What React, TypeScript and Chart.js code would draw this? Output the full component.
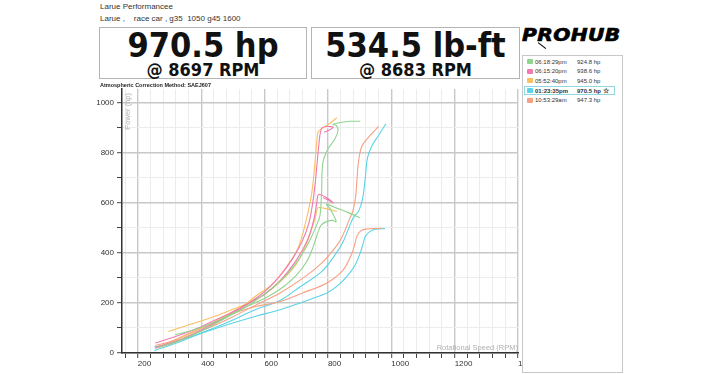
import React, { useEffect, useRef } from 'react';
import { Chart, registerables } from 'chart.js';
Chart.register(...registerables);

const runTimes = ['06:18:29pm', '06:15:20pm', '05:52:40pm', '01:23:35pm', '10:53:29am'];
const runPeaks = ['924.8 hp', '938.6 hp', '945.0 hp', '970.5 hp', '947.3 hp'];
const runColors = ['#8fd48f', '#f07aae', '#f9c060', '#5ad3e6', '#f7a083'];
const selectedRun = 3;

const xMajorTicks = [200, 400, 600, 800, 1000, 1200, 1400];
const yMajorTicks = [0, 200, 400, 600, 800, 1000];

const power1 = [[265,22],[320,45],[370,70],[420,100],[470,135],[520,170],[560,200],[610,245],[660,300],[700,360],[730,420],[752,475],[765,513],[775,550],[780,640],[784,760],[800,815],[822,855],[832,890],[826,910],[816,913],[840,921],[870,926],[902,926]];
const torque1 = [[318,73],[370,90],[420,112],[470,140],[520,170],[560,195],[610,225],[660,265],[700,310],[735,370],[755,430],[768,480],[778,510],[795,525],[815,530],[826,524],[820,545],[805,580],[795,595],[830,578],[870,558],[902,540]];
const power2 = [[255,22],[300,40],[350,62],[400,92],[450,125],[500,160],[545,195],[600,245],[650,310],[690,380],[720,450],[740,520],[752,600],[760,680],[766,760],[772,840],[776,880],[782,900],[800,905],[817,902],[800,888],[788,882]];
const torque2 = [[255,40],[300,58],[350,80],[400,105],[450,135],[500,165],[545,195],[600,235],[650,290],[700,370],[735,450],[755,530],[765,600],[770,633],[790,625],[817,600],[800,612],[785,620]];
const power3 = [[262,25],[300,42],[350,68],[400,98],[450,130],[500,165],[545,200],[570,226],[623,273],[674,353],[706,421],[728,513],[749,640],[760,773],[766,860],[770,886],[800,912],[828,940]];
const torque3 = [[296,86],[350,108],[400,128],[450,150],[500,175],[545,198],[600,235],[650,285],[700,355],[730,430],[750,500],[762,550],[768,580],[790,578],[828,566]];
const power4 = [[252,10],[300,30],[343,50],[400,80],[450,105],[500,132],[570,173],[649,210],[707,260],[781,326],[823,393],[848,445],[866,500],[880,540],[898,570],[910,620],[918,700],[925,780],[940,830],[960,870],[983,916]];
const torque4 = [[252,24],[300,36],[343,55],[400,78],[450,100],[500,120],[570,146],[649,173],[712,200],[760,222],[797,240],[830,268],[860,306],[885,350],[902,400],[912,440],[918,466],[933,486],[950,495],[980,497]];
const power5 = [[255,18],[300,35],[350,60],[400,88],[450,115],[500,145],[570,190],[649,240],[728,305],[781,360],[823,421],[845,465],[870,541],[880,573],[888,630],[892,700],[896,760],[907,826],[930,865],[960,906]];
const torque5 = [[255,30],[300,45],[350,72],[400,100],[450,125],[500,158],[570,185],[649,206],[720,240],[797,280],[849,333],[876,400],[886,440],[891,466],[902,486],[920,495],[970,498]];

const curves = [
  { run: 0, pts: power1 }, { run: 0, pts: torque1 },
  { run: 1, pts: power2 }, { run: 1, pts: torque2 },
  { run: 2, pts: power3 }, { run: 2, pts: torque3 },
  { run: 4, pts: power5 }, { run: 4, pts: torque5 },
  { run: 3, pts: power4 }, { run: 3, pts: torque4 },
];

const SANS = "'Liberation Sans', Arial, sans-serif";
const COND = "'DejaVu Sans Condensed', 'DejaVu Sans', sans-serif";

export default function App() {
  const ref = useRef<HTMLCanvasElement>(null);
  useEffect(() => {
    document.body.style.margin = '0';
    const datasets = curves.map((c) => ({
      data: c.pts.map(([x, y]) => ({ x, y })),
      borderColor: runColors[c.run],
      borderWidth: 1.1,
      pointRadius: 0,
      tension: 0.35,
      fill: false,
    }));
    const chart = new Chart(ref.current!, {
      type: 'line',
      data: { datasets },
      options: {
        animation: false,
        responsive: false,
        layout: { padding: { top: 4, right: 22, left: 0, bottom: 0 } },
        plugins: { legend: { display: false }, tooltip: { enabled: false } },
        scales: {
          x: {
            type: 'linear',
            min: 150,
            max: 1400,
            afterBuildTicks: (s: any) => {
              const t = [];
              for (let v = 160; v <= 1400; v += 40) t.push({ value: v });
              s.ticks = t;
            },
            afterFit: (s: any) => { s.height = 22; s.paddingLeft = 0; s.paddingRight = 0; },
            ticks: {
              autoSkip: false, maxRotation: 0, minRotation: 0, align: 'start', padding: 1,
              color: '#333', font: { size: 8, family: SANS },
              callback: (v: any) => (xMajorTicks.includes(v) ? String(v) : ''),
            },
            grid: {
              color: (ctx: any) => (ctx.tick && xMajorTicks.includes(ctx.tick.value) ? '#c8c8c8' : '#ececec'),
              lineWidth: (ctx: any) => (ctx.tick && xMajorTicks.includes(ctx.tick.value) ? 1.4 : 1),
              tickColor: '#444', tickWidth: 1, tickLength: 5,
            },
            border: { color: '#333', width: 1.5 },
          },
          y: {
            type: 'linear',
            min: 0,
            max: 1055,
            afterBuildTicks: (s: any) => {
              const t = [];
              for (let v = 0; v <= 1000; v += 100) t.push({ value: v });
              s.ticks = t;
            },
            afterFit: (s: any) => { s.width = 32; s.paddingTop = 0; s.paddingBottom = 0; },
            ticks: {
              autoSkip: false, padding: 3, color: '#333', font: { size: 8, family: SANS },
              callback: (v: any) => (yMajorTicks.includes(v) ? String(v) : ''),
            },
            grid: {
              color: (ctx: any) => (ctx.tick && yMajorTicks.includes(ctx.tick.value) ? '#c8c8c8' : '#ececec'),
              lineWidth: (ctx: any) => (ctx.tick && yMajorTicks.includes(ctx.tick.value) ? 1.4 : 1),
              tickColor: '#444', tickWidth: 1, tickLength: 5,
            },
            border: { color: '#333', width: 1.5 },
          },
        },
      } as any,
    });
    return () => chart.destroy();
  }, []);

  const abs = (s: React.CSSProperties): React.CSSProperties => ({ position: 'absolute', ...s });

  return (
    <div style={{ position: 'fixed', left: 0, top: 0, width: 720, height: 374, background: '#fff', overflow: 'hidden', fontFamily: SANS }}>
      <div style={abs({ left: 90, top: 85, width: 450, height: 290 })}>
        <canvas ref={ref} width={450} height={290} style={{ width: 450, height: 290, display: 'block' }} />
      </div>
      <div style={abs({ left: 100, top: 2, fontSize: 8, lineHeight: '10px', color: '#333' })}>Larue Performancee</div>
      <div style={abs({ left: 100, top: 14, fontSize: 8, lineHeight: '10px', color: '#333', whiteSpace: 'pre' })}>{'Larue ,    race car , g35  1050 g45 1600'}</div>

      <div style={abs({ left: 99, top: 27, width: 208, height: 52, border: '1px solid #b4b4b4', boxSizing: 'border-box' })}>
        <div style={abs({ left: 0, right: 0, top: 0, textAlign: 'center', fontFamily: COND, fontWeight: 'bold', fontSize: 34, lineHeight: '34px', color: '#111' })}>970.5 hp</div>
        <div style={abs({ left: 0, right: 0, top: 33, textAlign: 'center', fontFamily: COND, fontWeight: 'bold', fontSize: 18, lineHeight: '18px', color: '#111' })}>@ 8697 RPM</div>
      </div>
      <div style={abs({ left: 311, top: 27, width: 209, height: 52, border: '1px solid #b4b4b4', boxSizing: 'border-box' })}>
        <div style={abs({ left: 0, right: 0, top: 0, textAlign: 'center', fontFamily: COND, fontWeight: 'bold', fontSize: 34, lineHeight: '34px', color: '#111' })}>534.5 lb-ft</div>
        <div style={abs({ left: 0, right: 0, top: 33, textAlign: 'center', fontFamily: COND, fontWeight: 'bold', fontSize: 18, lineHeight: '18px', color: '#111' })}>@ 8683 RPM</div>
      </div>
      <div style={abs({ left: 100, top: 82, fontSize: 5.5, lineHeight: '7px', fontWeight: 'bold', color: '#222' })}>Atmospheric Correction Method: SAEJ607</div>

      <div style={abs({ left: 124, top: 93, fontSize: 7.5, color: '#b0b0b0', writingMode: 'vertical-rl', transform: 'rotate(180deg)', lineHeight: '8px' })}>Power (hp)</div>
      <div style={abs({ left: 400, width: 118, top: 343, fontSize: 7.5, color: '#b0b0b0', textAlign: 'right', lineHeight: '9px' })}>Rotational Speed (RPM)</div>

      <div style={abs({ left: 522, top: 27, fontFamily: COND, fontWeight: 'bold', fontStyle: 'italic', fontSize: 17, lineHeight: '17px', color: '#000', letterSpacing: 0.3, transform: 'scaleX(1.32)', transformOrigin: 'left top', WebkitTextStroke: '0.6px #000', whiteSpace: 'nowrap' })}>PROHUB</div>
      <div style={abs({ left: 538, top: 42, width: 10, height: 1.2, background: '#000', transform: 'rotate(38deg)', transformOrigin: 'left center' })} />

      <div style={abs({ left: 522, top: 55, width: 101, height: 318, border: '1.5px solid #c8c8c8', boxSizing: 'border-box', background: '#fff' })}>
        {runTimes.map((t, i) => (
          <div key={i} style={abs({ left: 1, top: 1 + i * 9.7, width: 91, height: 9, boxSizing: 'border-box', border: i === selectedRun ? '1px solid #8fd8e2' : '1px solid transparent', fontSize: 6, lineHeight: '7px', color: '#333', fontWeight: i === selectedRun ? 'bold' : 'normal' })}>
            <div style={abs({ left: 1.5, top: 1, width: 6, height: 5, background: runColors[i], borderRadius: 1 })} />
            <div style={abs({ left: 10, top: 0.5 })}>{t}</div>
            <div style={abs({ left: 52, top: 0.5 })}>{runPeaks[i]}</div>
            {i === selectedRun && <div style={abs({ left: 78, top: 0, fontSize: 7 })}>☆</div>}
          </div>
        ))}
      </div>
    </div>
  );
}
